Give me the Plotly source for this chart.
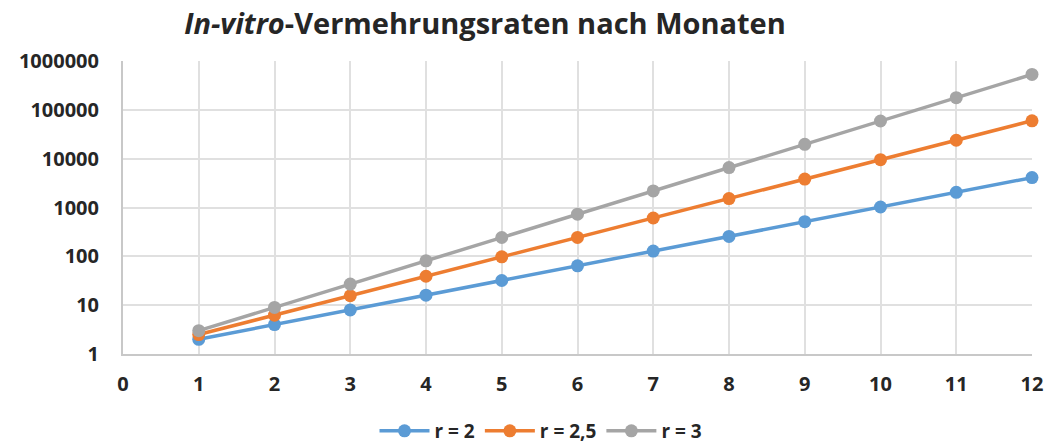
import plotly.graph_objects as go

months = [1, 2, 3, 4, 5, 6, 7, 8, 9, 10, 11, 12]
r2 = [2, 4, 8, 16, 32, 64, 128, 256, 512, 1024, 2048, 4096]
r25 = [2.5, 6.25, 15.6, 39.1, 97.7, 244, 610, 1526, 3815, 9537, 23842, 59605]
r3 = [3, 9, 27, 81, 243, 729, 2187, 6561, 19683, 59049, 177147, 531441]
series_names = ["r = 2", "r = 2,5", "r = 3"]
colors = ["#5B9BD5", "#ED7D31", "#A5A5A5"]
y_ticks = [1, 10, 100, 1000, 10000, 100000, 1000000]
y_ticktext = ["1", "10", "100", "1000", "10000", "100000", "1000000"]
x_ticks = [0, 1, 2, 3, 4, 5, 6, 7, 8, 9, 10, 11, 12]

FONT = "Open Sans"
TXT = "#262626"

fig = go.Figure()
for name, vals, col in zip(series_names, [r2, r25, r3], colors):
    fig.add_trace(go.Scatter(
        x=months, y=vals, name=name, mode="lines+markers",
        line=dict(color=col, width=3.5),
        marker=dict(color=col, size=13),
        cliponaxis=False,
    ))

fig.update_layout(
    width=1048, height=443,
    margin=dict(l=123, r=16, t=61, b=89),
    paper_bgcolor="white", plot_bgcolor="white",
    font=dict(family=FONT, size=19, color=TXT),
    title=dict(
        text="<b><i>In-vitro</i>-Vermehrungsraten nach Monaten</b>",
        x=485 / 1048, xanchor="center", xref="container",
        y=1 - 24 / 443, yanchor="middle", yref="container",
        font=dict(family=FONT, size=29, color=TXT),
    ),
    legend=dict(
        orientation="h", x=541 / 1048, xanchor="center", xref="container",
        y=1 - 431 / 443, yanchor="middle", yref="container",
        font=dict(family=FONT, size=19, color=TXT, weight="bold"),
        tracegroupgap=0, itemwidth=50,
    ),
    showlegend=True,
)
fig.update_xaxes(
    range=[0, 12], tickvals=x_ticks, ticktext=[str(v) for v in x_ticks],
    showgrid=True, gridcolor="#E0E0E0", gridwidth=2,
    showline=True, linecolor="#C8C8C8", linewidth=2,
    ticks="", ticklabelstandoff=11, automargin=False,
    tickfont=dict(family=FONT, size=20, color=TXT, weight="bold"),
    zeroline=False,
)
fig.update_yaxes(
    type="log", range=[0, 6], tickvals=y_ticks, ticktext=y_ticktext,
    showgrid=True, gridcolor="#E0E0E0", gridwidth=2,
    showline=True, linecolor="#C8C8C8", linewidth=2,
    ticks="", ticklabelstandoff=18, automargin=False,
    tickfont=dict(family=FONT, size=20, color=TXT, weight="bold"),
    zeroline=False,
)

fig.write_html(
    "out.html",
    config={"displayModeBar": False},
    post_script="document.body.style.margin='0';document.body.style.overflow='hidden';",
)
